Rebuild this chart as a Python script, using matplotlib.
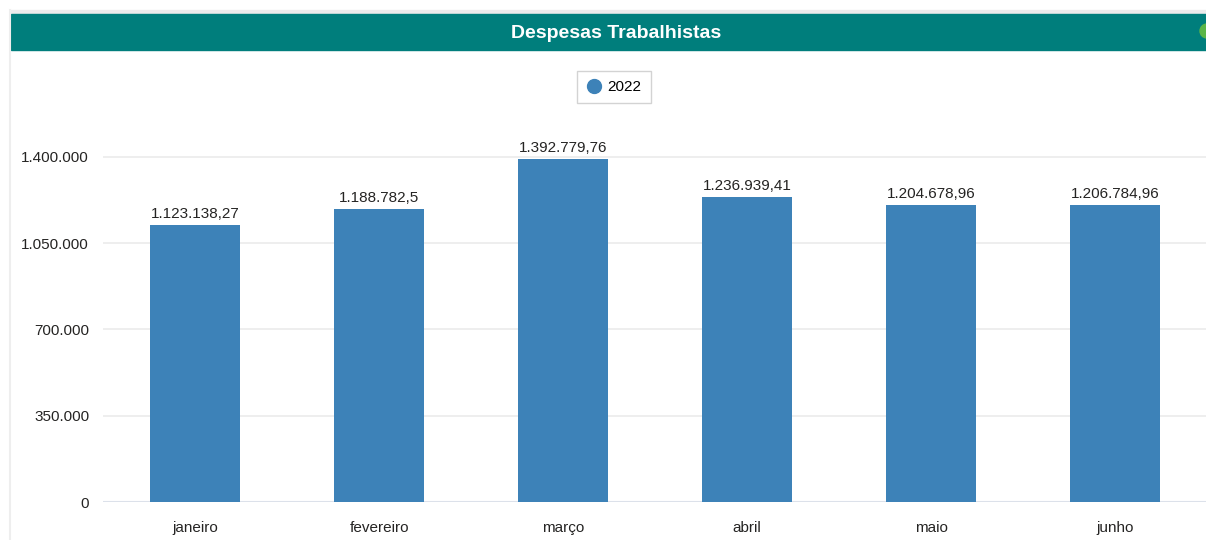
import matplotlib.pyplot as plt
from matplotlib.patches import Rectangle, Ellipse
from matplotlib.lines import Line2D

meses = ['janeiro', 'fevereiro', 'março', 'abril', 'maio', 'junho']
valores = [1123138.27, 1188782.5, 1392779.76, 1236939.41, 1204678.96, 1206784.96]
rotulos = ['1.123.138,27', '1.188.782,5', '1.392.779,76', '1.236.939,41', '1.204.678,96', '1.206.784,96']
y_ticks = [0, 350000, 700000, 1050000, 1400000]
y_labels = ['0', '350.000', '700.000', '1.050.000', '1.400.000']

plt.rcParams['font.family'] = ['Liberation Sans', 'DejaVu Sans']

fig = plt.figure(figsize=(12.06, 5.4), dpi=100)
W, H = 1206, 540

# barra do titulo
fig.patches.append(Rectangle((10 / W, 1 - 14 / H), 1, 4 / H, transform=fig.transFigure,
                             color='#EBEBEB', zorder=0))
fig.patches.append(Rectangle((11 / W, 1 - 50 / H), 1, 36 / H, transform=fig.transFigure,
                             color='#007E7C', zorder=1))
fig.patches.append(Ellipse((1207 / W, 1 - 31 / H), 14 / W, 14 / H, transform=fig.transFigure,
                           color='#5BB548', zorder=2))
fig.lines.append(Line2D([10 / W, 10 / W], [0, 1 - 10 / H], transform=fig.transFigure,
                        color='#EEEEEE', lw=1.5))
fig.text(616 / W, 1 - 33 / H, 'Despesas Trabalhistas', ha='center', va='center',
         color='white', fontsize=14, fontweight='bold')

ax = fig.add_axes([103 / W, 38 / H, 1104 / W, 382 / H])
x = range(len(meses))
ax.bar(x, valores, width=0.49, color='#3D82B8', zorder=3, label='2022')
ax.set_xlim(-0.5, len(meses) - 0.5)
ax.set_ylim(0, 1550000)
ax.set_yticks(y_ticks)
ax.set_yticklabels(y_labels)
ax.set_xticks(list(x))
ax.set_xticklabels(meses)
ax.tick_params(length=0, labelsize=11, colors='#252423')
ax.tick_params(axis='y', pad=10)
ax.tick_params(axis='x', pad=14)
for s in ax.spines.values():
    s.set_visible(False)
ax.grid(axis='y', color='#EBEBEB', lw=1.2, zorder=0)
ax.axhline(0, color='#DCE1EA', lw=1.5, zorder=2)

for xi, v, t in zip(x, valores, rotulos):
    ax.text(xi, v + 16000, t, ha='center', va='bottom', fontsize=11, color='#252423')

leg = ax.legend(handles=[Line2D([], [], marker='o', ls='', color='#3D82B8', markersize=10)],
                labels=['2022'], loc='center', bbox_to_anchor=(614 / W, 1 - 87 / H),
                bbox_transform=fig.transFigure, fontsize=11, frameon=True, fancybox=False,
                handletextpad=0.4, borderpad=0.6, handlelength=1.0)
leg.get_frame().set_edgecolor('#C8C8C8')
leg.get_frame().set_linewidth(1)

fig.savefig('out.png', dpi=100)
